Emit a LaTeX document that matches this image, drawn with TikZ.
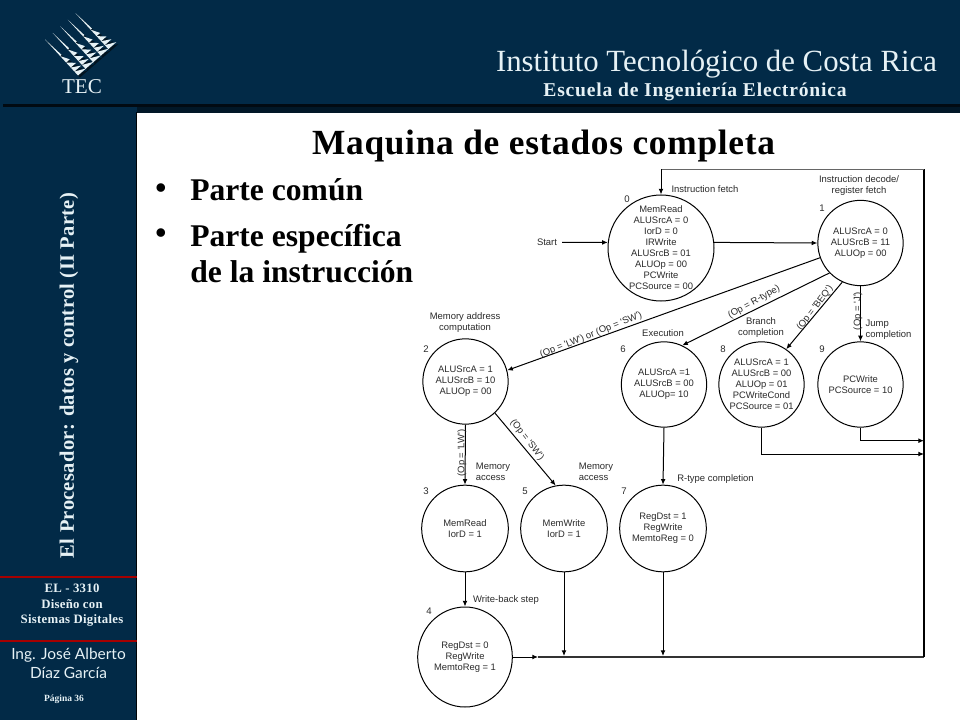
\documentclass[tikz,border=0pt]{standalone}
\usepackage{fontspec}
\setmainfont{Liberation Serif}
\newfontfamily\diagfont{Liberation Sans}
\newfontfamily\handfont{Lato}
\usetikzlibrary{arrows.meta,shapes.geometric}
\definecolor{navy}{HTML}{022A47}
\definecolor{pale}{HTML}{E6F1F5}
\definecolor{ink}{HTML}{2B2B2B}
\newcommand{\fs}[2]{\fontsize{#1}{#2}\selectfont}
\tikzset{
  stateA/.style={draw=black,line width=0.75pt,ellipse,inner sep=0pt,minimum width=#1,minimum height=#1},
  statetxt/.style={text=ink,inner sep=0pt,align=center,font=\diagfont\fs{7.05}{8.25}},
  lab/.style={text=ink,font=\diagfont\fs{7.1}{8.25},align=center,inner sep=0pt},
  num/.style={text=ink,font=\diagfont\fs{7.2}{8.25},inner sep=0pt},
  cond/.style={text=ink,font=\diagfont\fs{7.1}{8.25},inner sep=0pt},
  wire/.style={line width=0.75pt,black},
  arr/.style={wire,-{Latex[length=4.2pt,width=3.6pt]}},
  side/.style={text=pale,inner sep=0pt,align=center},
  lrule/.style={fill=red!65!black}
}
\begin{document}
\begin{tikzpicture}[x=0.75pt,y=-0.75pt]
\path[use as bounding box] (0,0) rectangle (960,720);
% background
\fill[navy] (0,0) rectangle (960,720);
\fill[white] (137,113) rectangle (960,720);
\fill[black!90!navy] (135.5,112) rectangle (137,720);
\fill[black!75!navy] (3,104) rectangle (960,107.5);
\fill[black!45!navy] (137,107.5) rectangle (960,113);
\fill[lrule] (0,576.3) rectangle (137,577.8);
\fill[lrule] (0,640.3) rectangle (137,641.8);
% logo
\foreach \col/\dx in {black!55!navy/2,pale/0}{
\foreach \i in {0,1,2,3,4}{
  \foreach \a/\b/\w in {0/.46/.16,.46/.64/.42,.64/.78/.62,.78/.89/.78,.89/1/.92}{
    \fill[\col] ({\dx+45+7.6*\i+33*\a},{\dx+39.5-6.6*\i+36*\a}) -- ({\dx+45+7.6*\i+33*\b},{\dx+39.5-6.6*\i+36*\b}) -- ({\dx+45+7.6*\i+33*\b+8.6*\w},{\dx+39.5-6.6*\i+36*\b-7.6*\w}) -- cycle;
  }
}}
\node[text=pale,inner sep=0pt,font=\fs{15.8}{18}] (tec) at (82,87) {TEC};
% header texts
\node[text=pale,inner sep=0pt,font=\fs{23.1}{26}] (inst) at (716.5,64) {Instituto Tecnológico de Costa Rica};
\node[text=pale,inner sep=0pt,font=\bfseries\fs{14.7}{17}\addfontfeature{LetterSpace=4}] (esc) at (695,92) {Escuela de Ingeniería Electrónica};
% side texts
\node[side,rotate=90,font=\bfseries\fs{15.4}{18}\addfontfeature{LetterSpace=1.5}] (proc) at (69,375.5) {El Procesador: datos y control (II Parte)};
\node[side,font=\bfseries\fs{9.6}{11.6}\addfontfeature{LetterSpace=2}] (course) at (72,605.5) {EL - 3310\\Diseño con\\Sistemas Digitales};
\node[side,font=\handfont\fs{11.6}{14.2}] (prof) at (68.5,663.5) {Ing. José Alberto\\Díaz García};
\node[side,font=\bfseries\fs{7.1}{9}] (page) at (64,699) {Página 36};
% title
\node[inner sep=0pt,font=\bfseries\fs{26.5}{30}\addfontfeature{LetterSpace=2}] (title) at (543.5,146) {Maquina de estados completa};
\node[inner sep=0pt,font=\bfseries\fs{23.7}{27}] (b1) at (161,191) {•};
\node[inner sep=0pt,anchor=west,font=\bfseries\fs{23.7}{27}] (t1) at (190,190) {Parte común};
\node[inner sep=0pt,font=\bfseries\fs{23.7}{27}] (b2) at (161,236) {•};
\node[inner sep=0pt,anchor=west,align=left,font=\bfseries\fs{23.7}{27}] (t2) at (190,254) {Parte específica\\de la instrucción};
% states
\node[stateA=79.5pt,label={[statetxt]center:MemRead\\ALUSrcA = 0\\IorD = 0\\IRWrite\\ALUSrcB = 01\\ALUOp = 00\\PCWrite\\PCSource = 00}] (s0) at (661,248) {};
\node[stateA=64pt,label={[statetxt]center:ALUSrcA = 0\\ALUSrcB = 11\\ALUOp = 00}] (s1) at (860.5,243) {};
\node[stateA=64pt,label={[statetxt]center:ALUSrcA = 1\\ALUSrcB = 10\\ALUOp = 00}] (s2) at (465.5,381.5) {};
\node[stateA=64pt,label={[statetxt]center:ALUSrcA =1\\ALUSrcB = 00\\ALUOp= 10}] (s6) at (664,384.5) {};
\node[stateA=64pt,label={[statetxt]center:ALUSrcA = 1\\ALUSrcB = 00\\ALUOp = 01\\PCWriteCond\\PCSource = 01}] (s8) at (761.5,384.5) {};
\node[stateA=64pt,label={[statetxt]center:PCWrite\\PCSource = 10}] (s9) at (860.5,384.5) {};
\node[stateA=65pt,label={[statetxt]center:MemRead\\IorD = 1}] (s3) at (465,528.5) {};
\node[stateA=65pt,label={[statetxt]center:MemWrite\\IorD = 1}] (s5) at (564,528.5) {};
\node[stateA=65pt,label={[statetxt]center:RegDst = 1\\RegWrite\\MemtoReg = 0}] (s7) at (663,528.5) {};
\node[stateA=72pt,minimum width=71pt,minimum height=75pt,label={[statetxt]center:RegDst = 0\\RegWrite\\MemtoReg = 1}] (s4) at (465,657) {};
% state numbers
\node[num] (n0) at (627,199) {0};
\node[num] (n1) at (822,208) {1};
\node[num] (n2) at (426,349) {2};
\node[num] (n6) at (623,349) {6};
\node[num] (n8) at (723,349) {8};
\node[num] (n9) at (822,349) {9};
\node[num] (n3) at (426,491) {3};
\node[num] (n5) at (525,491) {5};
\node[num] (n7) at (624,491) {7};
\node[num] (n4) at (429,611) {4};
% phase labels
\node[lab] (l0) at (705,189) {Instruction fetch};
\node[lab] (l1) at (859,186) {Instruction decode/\\register fetch};
\node[lab] (l2) at (465,323) {Memory address\\computation};
\node[lab] (l6) at (663,333) {Execution};
\node[lab] (l8) at (761,328) {Branch\\completion};
\node[lab,align=left] (l9) at (888.5,330) {Jump\\completion};
\node[lab,align=left] (l3) at (493,472) {Memory\\access};
\node[lab,align=left] (l5) at (596,472) {Memory\\access};
\node[lab] (l7) at (715.5,479.5) {R-type completion};
\node[lab] (l4) at (506,600) {Write-back step};
\node[lab] (start) at (547,242.5) {Start};
% junction points
\coordinate (j4) at (538,657);
\coordinate (jb) at (924,657);
\coordinate (jt) at (924,169.5);
\coordinate (jc) at (661,169.5);
\coordinate (e9) at (924,440.7);
\coordinate (e8) at (924,454);
\coordinate (k5) at (564,656);
\coordinate (k7) at (663,656);
% connectors
\draw[arr] (start) ++(15,0) -- (s0.174);
\draw[arr] (s0.6) -- (s1.west);
\draw[arr] (s1.200) -- (s2.15);
\draw[arr] (s1.224) -- (s6.65);
\draw[arr] (s1.245) -- (s8.55);
\draw[arr] (s1.south) -- (s9.north);
\draw[arr] (s2.south) -- (s3.north);
\draw[arr] (s2.313) -- (s5.101);
\draw[arr] (s6.south) -- (s7.north);
\draw[arr] (s3.south) -- (s4.north);
\draw[arr] (s5.south) -- (k5);
\draw[arr] (s7.south) -- (k7);
\draw[arr] (s8.south) |- (e8);
\draw[arr] (s9.south) |- (e9);
\draw[arr] (s4.east) -- (j4);
\draw[wire,line width=0.9pt,black!80] (j4) -- (jb);
\draw[wire,line width=1pt] (jb) -- (jt);
\draw[line width=1.3pt,black!60] (jt) -- (jc);
\draw[arr] (jc) -- (s0.north);
% condition labels
\node[cond,rotate=22] (c1) at (591,335) {(Op = 'LW') or (Op = 'SW')};
\node[cond,rotate=29] (c2) at (754,302) {(Op = R-type)};
\node[cond,rotate=53] (c3) at (815,308) {(Op = 'BEQ')};
\node[cond,rotate=90] (c4) at (858,311) {(Op = 'J')};
\node[cond,rotate=90] (c5) at (462,453) {(Op = 'LW')};
\node[cond,rotate=-52] (c6) at (527,440) {(Op = 'SW')};
\end{tikzpicture}
\end{document}
